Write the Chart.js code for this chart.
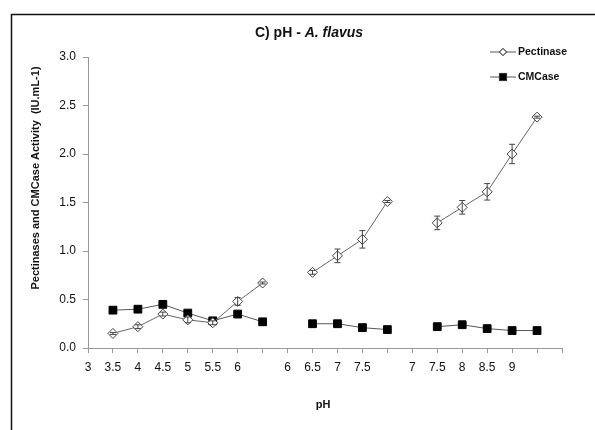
<!DOCTYPE html>
<html>
<head>
<meta charset="utf-8">
<script src="https://cdn.jsdelivr.net/npm/chart.js@4/dist/chart.umd.min.js"></script>
<style>
  html, body { margin: 0; padding: 0; background: #fff; }
  #wrap { width: 595px; height: 430px; }
</style>
</head>
<body>
<div id="wrap"><canvas id="myChart"></canvas></div>
<script>
// categories (blank slots separate the three pH runs)
var labels = ['3', '3.5', '4', '4.5', '5', '5.5', '6', '', '6', '6.5', '7', '7.5', '', '7', '7.5', '8', '8.5', '9', '', ''];

// activity values (IU.mL-1)
var pectinase = [null, 0.15, 0.22, 0.35, 0.29, 0.26, 0.48, 0.67, null, 0.78, 0.95, 1.12, 1.51, null, 1.29, 1.45, 1.61, 2.00, 2.38, null];
var pectinaseErr = [null, 0.01, 0.02, 0.02, 0.03, 0.02, 0.04, 0.01, null, 0.02, 0.07, 0.09, 0.01, null, 0.07, 0.07, 0.085, 0.10, 0.01, null];
var cmcase = [null, 0.39, 0.40, 0.45, 0.36, 0.28, 0.35, 0.27, null, 0.25, 0.25, 0.21, 0.19, null, 0.22, 0.24, 0.20, 0.18, 0.18, null];

var yTicks = [0, 0.5, 1.0, 1.5, 2.0, 2.5, 3.0];

var FONT = 'Arial, "Liberation Sans", sans-serif';

// error bars on the pectinase series
var errorBars = {
    id: 'errorBars',
    afterDatasetsDraw: function(chart) {
        var ctx = chart.ctx;
        var meta = chart.getDatasetMeta(0);
        var y = chart.scales.y;
        ctx.save();
        ctx.strokeStyle = '#444';
        ctx.lineWidth = 1;
        meta.data.forEach(function(pt, i) {
            var v = pectinase[i], e = pectinaseErr[i];
            if (v == null || !e) return;
            var top = y.getPixelForValue(v + e);
            var bot = y.getPixelForValue(v - e);
            ctx.beginPath();
            ctx.moveTo(pt.x, top); ctx.lineTo(pt.x, bot);
            ctx.moveTo(pt.x - 3, top); ctx.lineTo(pt.x + 3, top);
            ctx.moveTo(pt.x - 3, bot); ctx.lineTo(pt.x + 3, bot);
            ctx.stroke();
        });
        ctx.restore();
    }
};

// frame, titles and legend
var decor = {
    id: 'decor',
    afterDraw: function(chart) {
        var ctx = chart.ctx;
        ctx.save();
        // frame lines
        ctx.strokeStyle = '#111';
        ctx.lineWidth = 1.5;
        ctx.beginPath();
        ctx.moveTo(595, 14.5); ctx.lineTo(11.5, 14.5); ctx.lineTo(11.5, 430);
        ctx.stroke();

        // title with italic species name
        ctx.fillStyle = '#111';
        ctx.textBaseline = 'middle';
        var t1 = 'C) pH - ', t2 = 'A. flavus';
        ctx.font = 'bold 14px ' + FONT;
        var w1 = ctx.measureText(t1).width;
        ctx.font = 'italic bold 14px ' + FONT;
        var w2 = ctx.measureText(t2).width;
        var x0 = 309 - (w1 + w2) / 2;
        ctx.font = 'bold 14px ' + FONT;
        ctx.textAlign = 'left';
        ctx.fillText(t1, x0, 33);
        ctx.font = 'italic bold 14px ' + FONT;
        ctx.fillText(t2, x0 + w1, 33);

        // axis titles
        ctx.font = 'bold 11px ' + FONT;
        ctx.textAlign = 'center';
        ctx.fillText('pH', 323, 405);
        ctx.save();
        ctx.translate(36, 178);
        ctx.rotate(-Math.PI / 2);
        ctx.fillText('Pectinases and CMCase Activity  (IU.mL-1)', 0, 0);
        ctx.restore();

        // legend
        var items = [
            { text: 'Pectinase', y: 52, style: 'rectRot', fill: '#fff', r: 3.5 },
            { text: 'CMCase', y: 77, style: 'rect', fill: '#000', r: 5 }
        ];
        items.forEach(function(it) {
            ctx.strokeStyle = '#555';
            ctx.lineWidth = 1;
            ctx.beginPath();
            ctx.moveTo(490, it.y); ctx.lineTo(516, it.y);
            ctx.stroke();
            ctx.fillStyle = it.fill;
            ctx.strokeStyle = '#333';
            Chart.helpers.drawPoint(ctx, { pointStyle: it.style, radius: it.r, borderWidth: 1, rotation: 0 }, 503, it.y);
            ctx.fill();
            ctx.stroke();
            ctx.fillStyle = '#111';
            ctx.font = 'bold 10.5px ' + FONT;
            ctx.textAlign = 'left';
            ctx.fillText(it.text, 518, it.y);
        });
        ctx.restore();
    }
};

var ctx = document.getElementById('myChart').getContext('2d');
var myChart = new Chart(ctx, {
    type: 'line',
    data: {
        labels: labels,
        datasets: [
            {
                label: 'Pectinase',
                data: pectinase,
                borderColor: '#666',
                borderWidth: 1,
                pointStyle: 'rectRot',
                pointRadius: 5,
                pointBackgroundColor: '#fff',
                pointBorderColor: '#444',
                pointBorderWidth: 1,
                spanGaps: false
            },
            {
                label: 'CMCase',
                data: cmcase,
                borderColor: '#555',
                borderWidth: 1,
                pointStyle: 'rect',
                pointRadius: 5.5,
                pointBackgroundColor: '#000',
                pointBorderColor: '#000',
                pointBorderWidth: 1,
                spanGaps: false
            }
        ]
    },
    options: {
        responsive: true,
        maintainAspectRatio: false,
        animation: false,
        events: [],
        layout: { padding: { left: 0, top: 57, right: 33, bottom: 42 } },
        plugins: {
            legend: { display: false },
            title: { display: false },
            tooltip: { enabled: false }
        },
        scales: {
            x: {
                type: 'category',
                offset: false,
                afterFit: function(s) { s.height = 40; },
                grid: { drawOnChartArea: false, drawTicks: true, tickLength: 5, color: '#999', offset: false },
                border: { color: '#999', width: 1 },
                ticks: {
                    autoSkip: false, maxRotation: 0, minRotation: 0, padding: 7,
                    color: '#111', font: { family: FONT, size: 12 }
                }
            },
            y: {
                min: 0, max: 3,
                afterFit: function(s) { s.width = 88; },
                afterBuildTicks: function(s) { s.ticks = yTicks.map(function(v) { return { value: v }; }); },
                grid: { drawOnChartArea: false, drawTicks: true, tickLength: 5, color: '#999' },
                border: { color: '#999', width: 1 },
                ticks: {
                    padding: 7, color: '#111', font: { family: FONT, size: 12 },
                    callback: function(v) { return Number(v).toFixed(1); }
                }
            }
        }
    },
    plugins: [errorBars, decor]
});
</script>
</body>
</html>
